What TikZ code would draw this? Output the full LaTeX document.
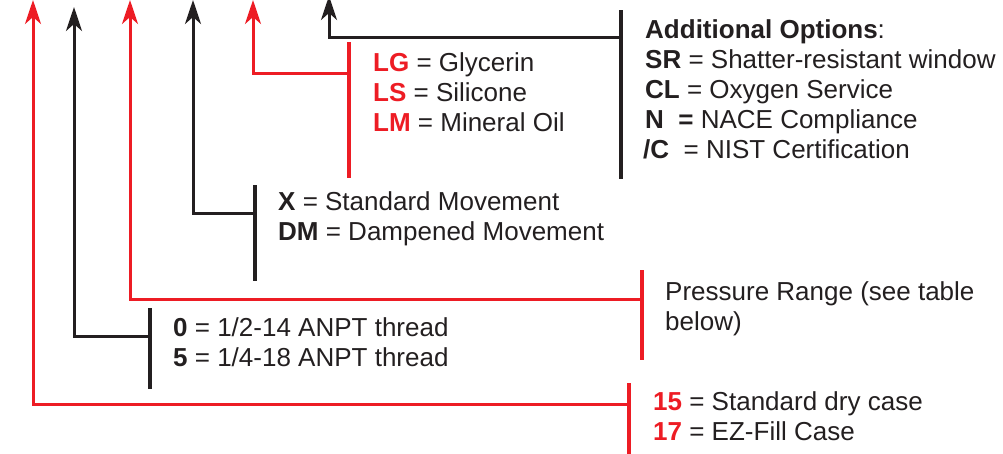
\documentclass[tikz,border=0pt]{standalone}
\usepackage{fontspec}
\setmainfont{Liberation Sans}
\usetikzlibrary{arrows.meta}
\definecolor{rd}{HTML}{ED1C24}
\definecolor{bk}{HTML}{231F20}
\begin{document}
\begin{tikzpicture}[x=1pt,y=-1pt,
  lbl/.style={anchor=base west, inner sep=0pt, font=\fontsize{26}{30}\selectfont, text=bk},
  bar/.style={line width=4pt},
  lead/.style={line width=3pt, line join=miter, -{Stealth[length=24pt,width=16pt,inset=7pt]}}]
\useasboundingbox (0,0) rectangle (1003,453);
% coordinates: bars, junctions, tips
\coordinate (b1t) at (629,383); \coordinate (b1b) at (629,456); \coordinate (j1) at (629,404); \coordinate (t1) at (33,0);
\coordinate (b2t) at (150,308); \coordinate (b2b) at (150,389); \coordinate (j2) at (150,336); \coordinate (t2) at (74,7);
\coordinate (b3t) at (642,270); \coordinate (b3b) at (642,360); \coordinate (j3) at (642,299); \coordinate (t3) at (130,0);
\coordinate (b4t) at (255,185); \coordinate (b4b) at (255,281); \coordinate (j4) at (255,213); \coordinate (t4) at (193,0);
\coordinate (b5t) at (349,42);  \coordinate (b5b) at (349,178); \coordinate (j5) at (349,73);  \coordinate (t5) at (253,0);
\coordinate (b6t) at (621,10);  \coordinate (b6b) at (621,179); \coordinate (j6) at (621,37);  \coordinate (t6) at (329,-4);
% bars
\draw[bar,rd] (b1t) -- (b1b);
\draw[bar,bk] (b2t) -- (b2b);
\draw[bar,rd] (b3t) -- (b3b);
\draw[bar,bk] (b4t) -- (b4b);
\draw[bar,rd] (b5t) -- (b5b);
\draw[bar,bk] (b6t) -- (b6b);
% leaders
\draw[lead,rd] (j1) -| (t1);
\draw[lead,bk] (j2) -| (t2);
\draw[lead,rd] (j3) -| (t3);
\draw[lead,bk] (j4) -| (t4);
\draw[lead,rd] (j5) -| (t5);
\draw[lead,bk] (j6) -| (t6);
% texts
\node[lbl] (ao) at (645,38) {\textbf{Additional Options}:};
\node[lbl] (sr) at (645,68) {\textbf{SR} = Shatter-resistant window};
\node[lbl] (cl) at (645,98) {\textbf{CL} = Oxygen Service};
\node[lbl] (nn) at (645,128) {\textbf{N\ \ =} NACE Compliance};
\node[lbl] (nc) at (643,158) {\textbf{/C}\ \ = NIST Certification};
\node[lbl] (lg) at (373,71) {\textcolor{rd}{\textbf{LG}} = Glycerin};
\node[lbl] (ls) at (373,101) {\textcolor{rd}{\textbf{LS}} = Silicone};
\node[lbl] (lm) at (373,131) {\textcolor{rd}{\textbf{LM}} = Mineral Oil};
\node[lbl] (xx) at (278,210) {\textbf{X} = Standard Movement};
\node[lbl] (dm) at (278,240) {\textbf{DM} = Dampened Movement};
\node[lbl] (z0) at (173,336) {\textbf{0} = 1/2-14 ANPT thread};
\node[lbl] (z5) at (173,366) {\textbf{5} = 1/4-18 ANPT thread};
\node[lbl] (pr1) at (665,300) {Pressure Range (see table};
\node[lbl] (pr2) at (665,330) {below)};
\node[lbl] (c15) at (653,410) {\textcolor{rd}{\textbf{15}} = Standard dry case};
\node[lbl] (c17) at (653,440) {\textcolor{rd}{\textbf{17}} = EZ-Fill Case};
\end{tikzpicture}
\end{document}
